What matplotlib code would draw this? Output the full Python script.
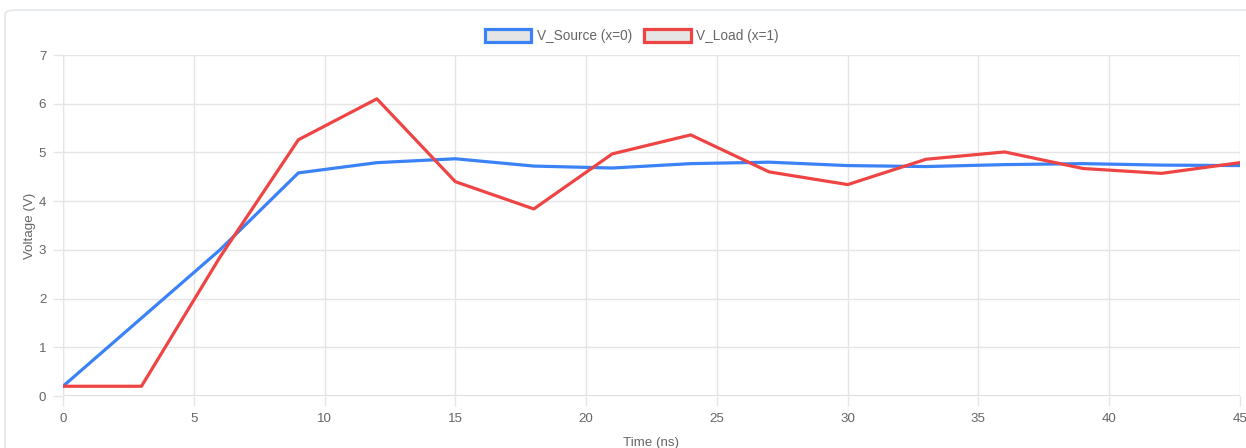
import numpy as np
import matplotlib
matplotlib.use('Agg')
import matplotlib.pyplot as plt
from matplotlib.patches import Patch, FancyBboxPatch

plt.rcParams['font.family'] = ['Liberation Sans', 'DejaVu Sans']

# data
time_ns = [0, 3, 6, 9, 12, 15, 18, 21, 24, 27, 30, 33, 36, 39, 42, 45]
v_source = [0.2, 1.6, 3.0, 4.58, 4.79, 4.87, 4.72, 4.68, 4.77, 4.8, 4.73, 4.71, 4.75, 4.77, 4.74, 4.73]
v_load = [0.2, 0.2, 2.85, 5.26, 6.1, 4.4, 3.84, 4.97, 5.36, 4.6, 4.34, 4.86, 5.01, 4.67, 4.57, 4.79]
series_names = ['V_Source (x=0)', 'V_Load (x=1)']
series_colors = ['#3b82f6', '#ef4444']

W, H = 1246, 448
fig = plt.figure(figsize=(W / 100, H / 100), dpi=100)

# card outline behind the chart
card = FancyBboxPatch((5 / W, -0.1), 1.2, 1.1 - 10 / H,
                      boxstyle='round,pad=0,rounding_size=0.01',
                      transform=fig.transFigure, facecolor='none',
                      edgecolor='#e3e6ea', linewidth=1.2, zorder=0)
fig.patches.append(card)

ax = fig.add_axes([63 / W, 52 / H, 1177 / W, 341 / H])
ax.set_facecolor('none')

for vals, name, col in zip([v_source, v_load], series_names, series_colors):
    ax.plot(time_ns, vals, color=col, linewidth=2.3, label=name, zorder=3,
            solid_joinstyle='round')

ax.set_xlim(0, 45)
ax.set_ylim(0, 7)
ax.set_xticks(np.arange(0, 46, 5))
ax.set_yticks(np.arange(0, 8, 1))
ax.grid(True, color='#e5e5e5', linewidth=1)
ax.tick_params(colors='#666666', labelsize=9.6, length=7, width=1, pad=5)
ax.tick_params(axis='both', color='#e5e5e5')
for s in ax.spines.values():
    s.set_visible(False)
ax.axhline(0, color='#dcdcdc', linewidth=1.5, zorder=1)
ax.axvline(0, color='#e5e5e5', linewidth=1, zorder=1)

ax.set_xlabel('Time (ns)', color='#666666', fontsize=9.6, labelpad=9)
ax.set_ylabel('Voltage (V)', color='#666666', fontsize=9.6, labelpad=2)

handles = [Patch(facecolor='#e5e5e5', edgecolor=c, linewidth=2.3) for c in series_colors]
leg = fig.legend(handles, series_names, loc='center', bbox_to_anchor=(632 / W, 1 - 36 / H),
                 ncol=2, frameon=False, fontsize=9.8, handlelength=3.4, handleheight=1.1,
                 columnspacing=0.9, handletextpad=0.4)
for t in leg.get_texts():
    t.set_color('#666666')

fig.savefig('out.png', dpi=100)
